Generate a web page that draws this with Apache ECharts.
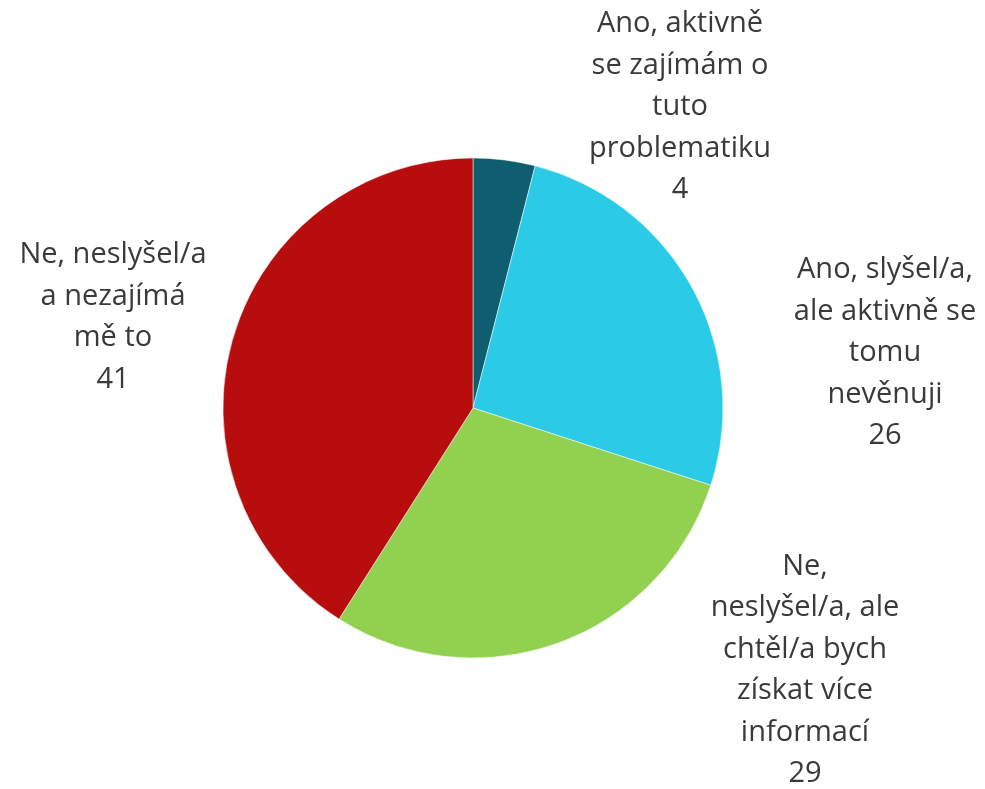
<!DOCTYPE html>
<html lang="cs">
<head>
    <meta charset="UTF-8">
    <title>Pie</title>
    <script src="https://cdn.jsdelivr.net/npm/echarts@6/dist/echarts.min.js"></script>
    <style>
        html, body { margin: 0; padding: 0; background: #fff; }
        #chart { width: 985px; height: 789px; }
    </style>
</head>
<body>
<div id="chart"></div>
<script type="text/javascript">
    // kategorie a hodnoty
    var categories = [
        'Ano, aktivně\nse zajímám o\ntuto\nproblematiku',
        'Ano, slyšel/a,\nale aktivně se\ntomu\nnevěnuji',
        'Ne,\nneslyšel/a, ale\nchtěl/a bych\nzískat více\ninformací',
        'Ne, neslyšel/a\na nezajímá\nmě to'
    ];
    var values = [4, 26, 29, 41];
    var colors = ['#0E5E6F', '#2BCBE8', '#92D050', '#B80D0D'];

    // středy popisků (rozvržení)
    var labelPos = [[680, 107], [885, 353], [805, 670], [113, 317]];

    var myChart = echarts.init(document.getElementById('chart'));

    var data = categories.map(function (c, i) {
        return { name: c, value: values[i], itemStyle: { color: colors[i] } };
    });

    var option = {
        animation: false,
        series: [{
            type: 'pie',
            center: [473, 408],
            radius: 250,
            startAngle: 90,
            clockwise: true,
            data: data,
            itemStyle: { borderColor: '#fff', borderWidth: 0.5 },
            label: {
                show: true,
                position: 'inside',
                formatter: '{b}\n{c}',
                color: '#3a3a3a',
                fontFamily: 'Open Sans',
                fontSize: 29,
                lineHeight: 41.5,
                align: 'center',
                verticalAlign: 'middle'
            },
            labelLine: { show: false },
            labelLayout: function (params) {
                var p = labelPos[params.dataIndex];
                return { x: p[0], y: p[1], align: 'center', verticalAlign: 'middle' };
            }
        }]
    };
    myChart.setOption(option);
</script>
</body>
</html>
